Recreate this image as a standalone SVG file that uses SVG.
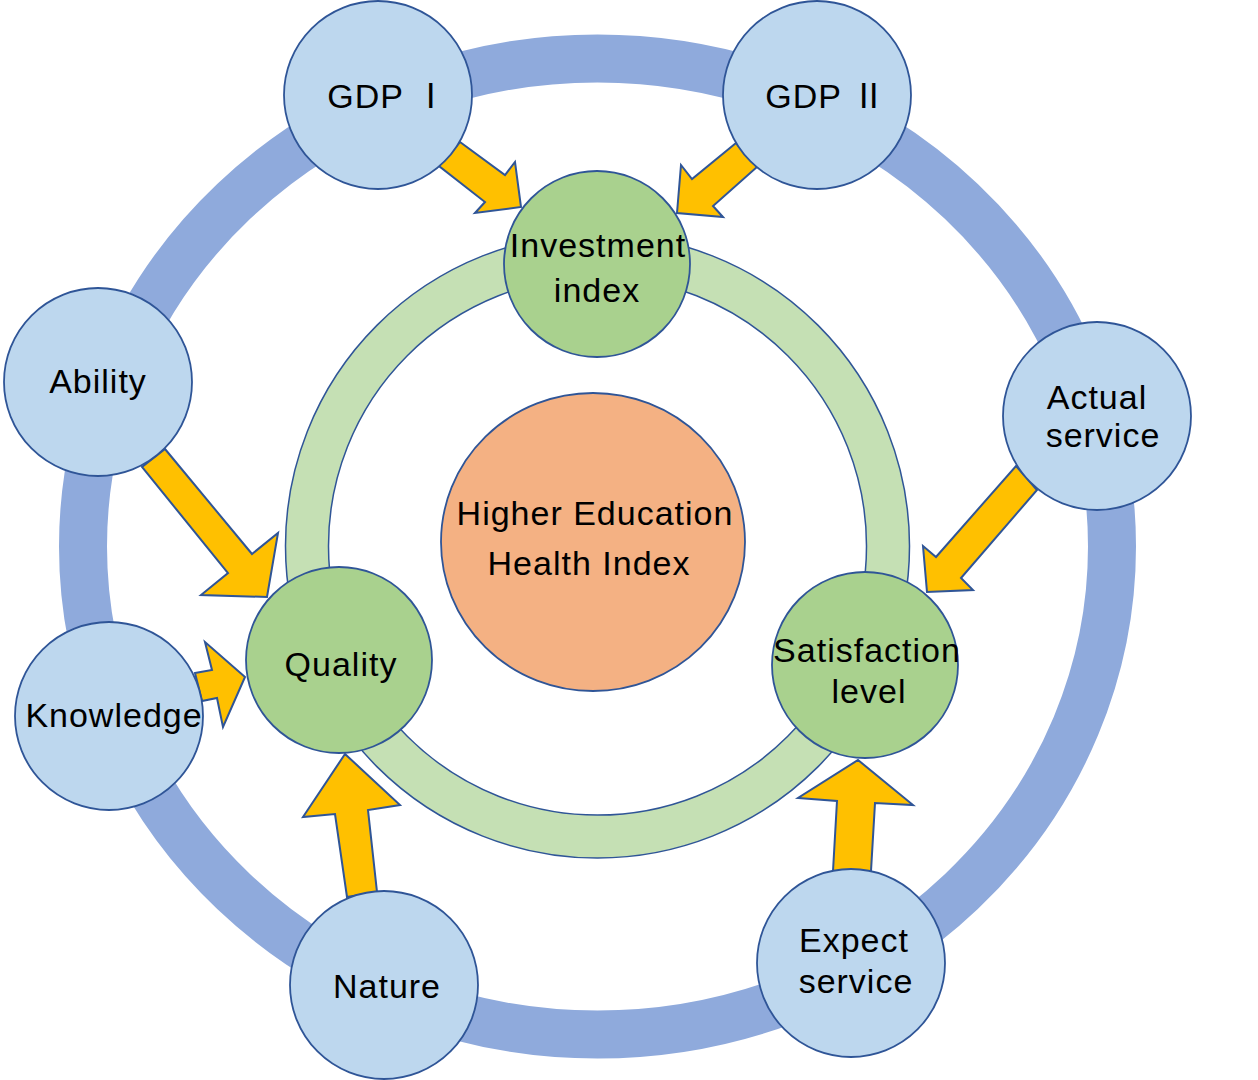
<svg xmlns="http://www.w3.org/2000/svg" width="1258" height="1080" viewBox="0 0 1258 1080">
<style>
.outer{fill:#BDD7EE;stroke:#2F5597;stroke-width:1.8}
.inner{fill:#A9D18E;stroke:#2F5597;stroke-width:1.8}
.core{fill:#F4B183;stroke:#2F5597;stroke-width:1.8}
.arrow{fill:#FFC000;stroke:#2F5597;stroke-width:2;stroke-linejoin:miter}
text{font-family:"Liberation Sans","Noto Sans CJK SC",sans-serif;font-size:34px;letter-spacing:1px;fill:#000;text-anchor:middle}
</style>
<rect width="1258" height="1080" fill="#fff"/>
<g id="rings">
<ellipse cx="597.5" cy="546.5" rx="514.5" ry="488" fill="none" stroke="#8FAADC" stroke-width="48"/>
<path d="M285.5 546a312 312 0 1 0 624 0a312 312 0 1 0 -624 0ZM328.5 546a269 269 0 1 0 538 0a269 269 0 1 0 -538 0Z" fill="#C5E0B4" fill-rule="evenodd" stroke="#2F5597" stroke-width="1.5"/>
</g>
<g id="connectors">
<polygon class="arrow" points="460,142 505,175 515,162 521,207 475,213 485,202 439,166"/>
<polygon class="arrow" points="736,143 692,179 681,165 677,213 723,217 713,206 757,167"/>
<polygon class="arrow" points="165,449 252,554 278,533 267,597 201,595 228,573 142,467"/>
<polygon class="arrow" points="195,673 212,670 205,642 245,677 223,727 217,698 202,701"/>
<polygon class="arrow" points="345,754 400,805 368,810 377,892 347,897 335,814 303,817"/>
<polygon class="arrow" points="858,760 913,805 875,803 871,871 833,871 837,801 798,798"/>
<polygon class="arrow" points="1016,466 1037,490 961,578 973,590 927,592 923,546 936,557"/>
</g>
<g id="core"><ellipse class="core" cx="593" cy="542" rx="152" ry="149"/>
<text x="595" y="525">Higher Education</text><text x="589" y="575">Health Index</text></g>
<g id="investment"><circle class="inner" cx="597" cy="264" r="93"/><text x="598" y="257">Investment</text><text x="597" y="302">index</text></g>
<g id="quality"><circle class="inner" cx="339" cy="660" r="93"/><text x="341" y="676">Quality</text></g>
<g id="satisfaction"><circle class="inner" cx="865" cy="665" r="93"/><text x="867" y="662">Satisfaction</text><text x="869" y="703">level</text></g>
<g id="gdp1"><circle class="outer" cx="378" cy="95" r="94"/><text x="388" y="108">GDP Ⅰ</text></g>
<g id="gdp2"><circle class="outer" cx="817" cy="95" r="94"/><text x="826" y="108">GDP Ⅱ</text></g>
<g id="ability"><circle class="outer" cx="98" cy="382" r="94"/><text x="98" y="393">Ability</text></g>
<g id="actual"><circle class="outer" cx="1097" cy="416" r="94"/><text x="1097" y="409">Actual</text><text x="1103" y="447">service</text></g>
<g id="knowledge"><circle class="outer" cx="109" cy="716" r="94"/><text x="114" y="727">Knowledge</text></g>
<g id="nature"><circle class="outer" cx="384" cy="985" r="94"/><text x="387" y="998">Nature</text></g>
<g id="expect"><circle class="outer" cx="851" cy="963" r="94"/><text x="854" y="952">Expect</text><text x="856" y="993">service</text></g>
</svg>
